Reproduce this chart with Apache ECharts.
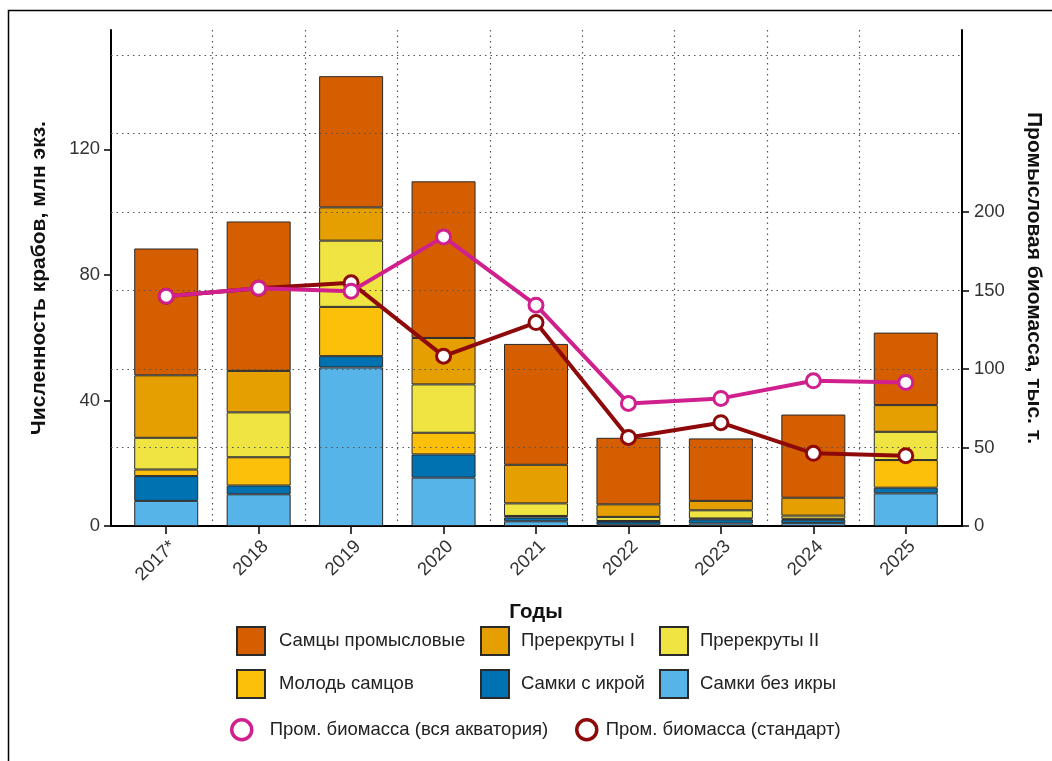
<!DOCTYPE html>
<html>
<head>
<meta charset="utf-8">
<script src="https://cdn.jsdelivr.net/npm/echarts@6/dist/echarts.min.js"></script>
<style>
  html, body { margin: 0; padding: 0; background: #fff; }
  #main { width: 1052px; height: 761px; }
</style>
</head>
<body>
<div id="main"></div>
<script>
// годы и значения
var years = ["2017*", "2018", "2019", "2020", "2021", "2022", "2023", "2024", "2025"];

// численность, млн экз.
var samkiBezIkry = [8.0, 10.1, 50.5, 15.4, 1.5, 0.4, 0.8, 0.9, 10.4];
var samkiSIkroy = [7.9, 2.8, 3.6, 7.4, 1.2, 1.0, 1.3, 1.1, 1.8];
var molodSamcov = [2.1, 9.0, 15.7, 6.9, 0.5, 0.2, 0.3, 0.3, 8.8];
var prerekrutyII = [10.1, 14.3, 21.1, 15.4, 4.0, 1.3, 2.6, 1.0, 9.0];
var prerekrutyI = [19.9, 13.2, 10.6, 14.8, 12.3, 4.0, 3.0, 5.7, 8.5];
var samcyPromysl = [40.4, 47.6, 41.8, 49.9, 38.5, 21.2, 19.9, 26.5, 23.1];

// промысловая биомасса, тыс. т
var biomassaVsya = [146.4, 151.5, 149.6, 184.2, 140.7, 78.1, 81.3, 92.5, 91.5];
var biomassaStandart = [146.4, 151.5, 154.9, 108.2, 129.6, 56.4, 65.8, 46.3, 44.8];

var leftTicks = [0, 40, 80, 120];
var rightTicks = [0, 50, 100, 150, 200];

var FONT = "Liberation Sans, Arial, sans-serif";
var MAGENTA = "#D0208E";
var DARKRED = "#8E0A0A";
var dotted = { color: "#555", width: 1.2, type: [1.5, 4] };
var axisBlack = { color: "#000", width: 2 };
var tickBlack = { color: "#000", width: 1.5 };

var myChart = echarts.init(document.getElementById("main"));

function barSeries(name, data, color) {
  return {
    name: name,
    type: "bar",
    stack: "crabs",
    xAxisIndex: 1,
    yAxisIndex: 3,
    barWidth: 64,
    z: 2,
    itemStyle: { color: color, borderColor: "#2a2a2a", borderWidth: 1 },
    data: data
  };
}

function lineSeries(name, data, color, z) {
  return {
    name: name,
    type: "line",
    xAxisIndex: 1,
    yAxisIndex: 4,
    z: z,
    symbol: "circle",
    symbolSize: 14,
    lineStyle: { color: color, width: 4 },
    itemStyle: { color: "#fff", borderColor: color, borderWidth: 3 },
    data: data
  };
}

function hiddenY(max) {
  return {
    gridIndex: 1,
    type: "value",
    min: 0,
    max: max,
    show: false,
    splitLine: { show: false }
  };
}

var legendText = { fontFamily: FONT, fontSize: 18.5, color: "#222" };
var nameStyle = { fontFamily: FONT, fontSize: 21, fontWeight: "bold", color: "#111" };

var option = {
  animation: false,
  backgroundColor: "#fff",
  textStyle: { fontFamily: FONT },
  graphic: [
    {
      type: "rect",
      shape: { x: 8.5, y: 10.5, width: 1100, height: 800 },
      style: { fill: "none", stroke: "#000", lineWidth: 1.5 },
      silent: true
    }
  ],
  grid: [
    { left: 111, right: 90, top: 30, bottom: 235 },
    { left: 120, right: 100, top: 30, bottom: 235 }
  ],
  xAxis: [
    {
      // только линия оси на всю ширину
      gridIndex: 0,
      type: "value",
      min: 0,
      max: 1,
      axisLine: { show: true, onZero: false, lineStyle: axisBlack },
      axisTick: { show: false },
      axisLabel: { show: false },
      splitLine: { show: false }
    },
    {
      gridIndex: 1,
      type: "category",
      data: years,
      name: "Годы",
      nameLocation: "middle",
      nameGap: 76,
      nameTextStyle: Object.assign({}, nameStyle, { fontSize: 20.5 }),
      axisLine: { show: false },
      axisTick: { show: true, alignWithLabel: true, length: 8, lineStyle: tickBlack },
      axisLabel: { rotate: 45, margin: 11, verticalAlign: "top", fontSize: 18.5, color: "#333", fontFamily: FONT },
      splitLine: { show: true, showMinLine: false, showMaxLine: false, lineStyle: dotted }
    }
  ],
  yAxis: [
    {
      gridIndex: 0,
      type: "value",
      position: "left",
      min: 0,
      max: 158,
      interval: 40,
      name: "Численность крабов, млн экз.",
      nameLocation: "middle",
      nameGap: 61,
      nameTextStyle: nameStyle,
      axisLine: { show: true, lineStyle: axisBlack },
      axisTick: { show: true, length: 7, customValues: leftTicks, lineStyle: tickBlack },
      axisLabel: { customValues: leftTicks, fontSize: 18.5, color: "#333", margin: 11, fontFamily: FONT },
      splitLine: { show: false }
    },
    {
      gridIndex: 0,
      type: "value",
      position: "right",
      min: 0,
      max: 316,
      interval: 50,
      name: "Промысловая биомасса, тыс. т.",
      nameLocation: "middle",
      nameGap: 61,
      nameRotate: -90,
      nameTextStyle: nameStyle,
      axisLine: { show: true, lineStyle: axisBlack },
      axisTick: { show: true, length: 7, customValues: rightTicks, lineStyle: tickBlack },
      axisLabel: { customValues: rightTicks, fontSize: 18.5, color: "#333", margin: 12, fontFamily: FONT },
      splitLine: { show: false }
    },
    {
      // горизонтальная сетка поверх столбцов
      gridIndex: 0,
      type: "value",
      min: 0,
      max: 316,
      interval: 50,
      z: 3,
      axisLine: { show: false },
      axisTick: { show: false },
      axisLabel: { show: false },
      splitLine: { show: true, showMinLine: false, showMaxLine: false, lineStyle: dotted }
    },
    hiddenY(158),
    hiddenY(316)
  ],
  legend: [
    {
      orient: "vertical", left: 236, top: 626, padding: 0, itemGap: 13, itemWidth: 28, itemHeight: 28, icon: "rect",
      textStyle: Object.assign({ padding: [0, 0, 0, 9] }, legendText),
      data: ["Самцы промысловые", "Молодь самцов"]
    },
    {
      orient: "vertical", left: 480, top: 626, padding: 0, itemGap: 13, itemWidth: 28, itemHeight: 28, icon: "rect",
      textStyle: Object.assign({ padding: [0, 0, 0, 7] }, legendText),
      data: ["Пререкруты I", "Самки с икрой"]
    },
    {
      orient: "vertical", left: 659, top: 626, padding: 0, itemGap: 13, itemWidth: 28, itemHeight: 28, icon: "rect",
      textStyle: Object.assign({ padding: [0, 0, 0, 7] }, legendText),
      data: ["Пререкруты II", "Самки без икры"]
    },
    {
      left: 230, top: 718, padding: 0, itemWidth: 20, itemHeight: 20, icon: "circle",
      textStyle: Object.assign({ padding: [0, 0, 0, 13] }, legendText),
      data: [{ name: "Пром. биомасса (вся акватория)", itemStyle: { color: "#fff", borderColor: MAGENTA, borderWidth: 3.5 } }]
    },
    {
      left: 575, top: 718, padding: 0, itemWidth: 20, itemHeight: 20, icon: "circle",
      textStyle: Object.assign({ padding: [0, 0, 0, 4] }, legendText),
      data: [{ name: "Пром. биомасса (стандарт)", itemStyle: { color: "#fff", borderColor: DARKRED, borderWidth: 3.5 } }]
    }
  ],
  series: [
    barSeries("Самки без икры", samkiBezIkry, "#56B4E9"),
    barSeries("Самки с икрой", samkiSIkroy, "#0072B2"),
    barSeries("Молодь самцов", molodSamcov, "#FCBF0A"),
    barSeries("Пререкруты II", prerekrutyII, "#F0E442"),
    barSeries("Пререкруты I", prerekrutyI, "#E69F00"),
    barSeries("Самцы промысловые", samcyPromysl, "#D55E00"),
    lineSeries("Пром. биомасса (стандарт)", biomassaStandart, DARKRED, 5),
    lineSeries("Пром. биомасса (вся акватория)", biomassaVsya, MAGENTA, 6)
  ]
};

myChart.setOption(option);
</script>
</body>
</html>
